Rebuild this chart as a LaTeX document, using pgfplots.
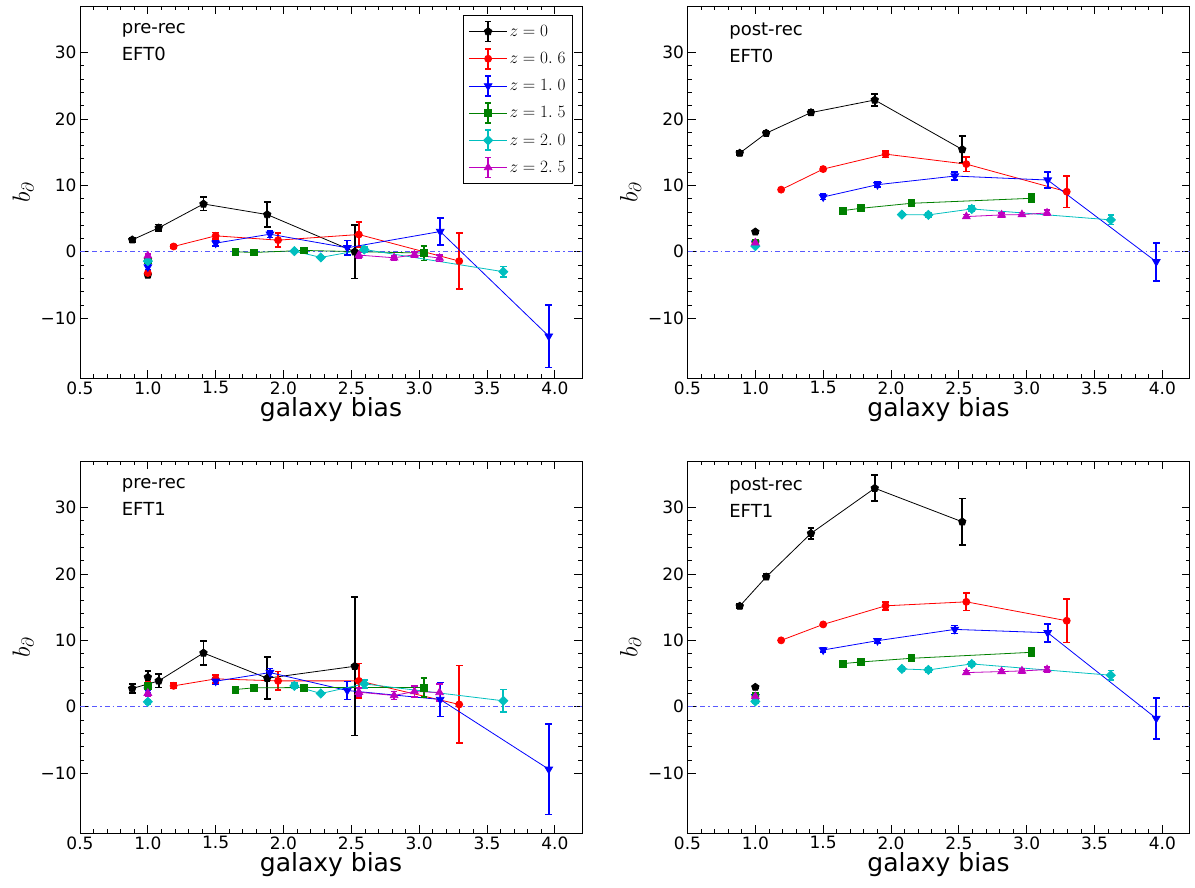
\documentclass[border=0pt]{standalone}
\usepackage[no-math]{fontspec}
\setmainfont{DejaVu Sans}
\usepackage{pgfplots}
\pgfplotsset{compat=1.18}

\definecolor{mpgreen}{rgb}{0,0.5,0}
\definecolor{mpcyan}{rgb}{0,0.75,0.75}
\definecolor{mpmag}{rgb}{0.75,0,0.75}
\definecolor{zeroblue}{rgb}{0.35,0.35,1}

\pgfplotsset{
  zA/.style={black, line width=0.8pt, mark=pentagon*, mark size=3.9pt},
  zB/.style={red, line width=0.8pt, mark=*, mark size=3.5pt},
  zC/.style={blue, line width=0.8pt, mark=triangle*, mark size=4.4pt, mark options={rotate=180}},
  zD/.style={mpgreen, line width=0.8pt, mark=square*, mark size=3.4pt},
  zE/.style={mpcyan, line width=0.8pt, mark=square*, mark size=3.2pt, mark options={rotate=45}},
  zF/.style={mpmag, line width=0.8pt, mark=triangle*, mark size=4.4pt},
  iso/.style={only marks, forget plot},
  eb/.style={/pgfplots/error bars/y dir=both, /pgfplots/error bars/y explicit,
    /pgfplots/error bars/error bar style={line width=1.7pt},
    /pgfplots/error bars/error mark options={rotate=90, mark size=3.3pt, line width=1.7pt}},
  panel/.style={
    scale only axis, width=502pt, height=372pt,
    xmin=0.5, xmax=4.2, ymin=-19, ymax=37,
    xtick={0.5,1,1.5,2,2.5,3,3.5,4},
    xticklabels={0.5,1.0,1.5,2.0,2.5,3.0,3.5,4.0},
    ytick={-10,0,10,20,30},
    yticklabels={−10,0,10,20,30},
    minor x tick num=4, minor y tick num=4,
    tick align=inside, major tick length=8pt, minor tick length=4pt,
    tick style={black, line width=0.8pt},
    axis line style={line width=0.8pt},
    ticklabel style={font=\fontsize{17}{20}\selectfont},
    xlabel={galaxy bias}, ylabel={$b_\partial$},
    label style={font=\fontsize{25}{30}\selectfont},
    xlabel style={yshift=4pt},
    legend image code/.code={
      \draw[line width=1.7pt] (19pt,-10pt) -- (19pt,10pt);
      \draw[line width=1.7pt] (16pt,10pt) -- (22pt,10pt);
      \draw[line width=1.7pt] (16pt,-10pt) -- (22pt,-10pt);
      \draw[mark repeat=2, mark phase=2] plot coordinates {(0pt,0pt) (19pt,0pt) (38pt,0pt)};
    },
  },
}

\newcommand{\zeroline}{\addplot[zeroblue, line width=1.1pt, dash pattern=on 5pt off 3pt on 1.5pt off 3pt, forget plot] coordinates {(0.5,0) (4.2,0)};}

\begin{document}
\begin{tikzpicture}
\path[use as bounding box] (0pt,0pt) rectangle (1195pt,887pt);

% ---------------- pre-rec EFT0
\begin{axis}[panel, at={(80pt,509pt)}, anchor=south west,
  legend style={at={(0.982,0.975)}, anchor=north east, font=\fontsize{17}{20}\selectfont,
    row sep=5.5pt, inner sep=5pt, draw=black, line width=0.8pt},
  legend cell align=left]
\zeroline
\addplot[zA,eb] coordinates {(0.885,1.8)+-(0,0.3) (1.08,3.6)+-(0,0.5) (1.41,7.2)+-(0,1.0) (1.88,5.6)+-(0,1.85) (2.525,0.0)+-(0,4.0)};
\addlegendentry{$z=0$}
\addplot[zB,eb] coordinates {(1.19,0.8)+-(0,0.2) (1.50,2.4)+-(0,0.5) (1.96,1.75)+-(0,1.05) (2.555,2.6)+-(0,1.9) (3.295,-1.4)+-(0,4.2)};
\addlegendentry{$z=0.\;6$}
\addplot[zC,eb] coordinates {(1.50,1.3)+-(0,0.4) (1.90,2.65)+-(0,0.5) (2.47,0.6)+-(0,1.1) (3.155,3.05)+-(0,2.05) (3.955,-12.7)+-(0,4.7)};
\addlegendentry{$z=1.\;0$}
\addplot[zD,eb] coordinates {(1.645,0.0)+-(0,0.2) (1.78,-0.1)+-(0,0.2) (2.15,0.2)+-(0,0.3) (3.035,-0.2)+-(0,1.1)};
\addlegendentry{$z=1.\;5$}
\addplot[zE,eb] coordinates {(2.08,0.1)+-(0,0.2) (2.275,-0.85)+-(0,0.2) (2.595,0.35)+-(0,0.4) (3.62,-3.0)+-(0,0.8)};
\addlegendentry{$z=2.\;0$}
\addplot[zF,eb] coordinates {(2.555,-0.5)+-(0,0.4) (2.815,-0.9)+-(0,0.3) (2.965,-0.45)+-(0,0.4) (3.15,-0.95)+-(0,0.5)};
\addlegendentry{$z=2.\;5$}
\addplot[zA,iso,eb] coordinates {(1.0,-3.5)+-(0,0.3)};
\addplot[zB,iso,eb] coordinates {(1.0,-3.2)+-(0,0.4)};
\addplot[zC,iso,eb] coordinates {(1.0,-2.3)+-(0,0.4)};
\addplot[zD,iso,eb] coordinates {(1.0,-1.3)+-(0,0.3)};
\addplot[zE,iso,eb] coordinates {(1.0,-1.4)+-(0,0.3)};
\addplot[zF,iso,eb] coordinates {(1.0,-0.6)+-(0,0.3)};
\node[anchor=north west, align=left, inner sep=0pt, font=\fontsize{18}{27}\selectfont] at (rel axis cs:0.083,0.955) {pre-rec\\EFT0};
\end{axis}

% ---------------- post-rec EFT0
\begin{axis}[panel, at={(687.5pt,509pt)}, anchor=south west]
\zeroline
\addplot[zA,eb] coordinates {(0.885,14.85)+-(0,0.3) (1.08,17.85)+-(0,0.3) (1.41,20.95)+-(0,0.4) (1.88,22.85)+-(0,0.9) (2.525,15.4)+-(0,2.0)};
\addplot[zB,eb] coordinates {(1.19,9.35)+-(0,0.2) (1.50,12.45)+-(0,0.3) (1.96,14.7)+-(0,0.5) (2.555,13.2)+-(0,1.1) (3.295,9.05)+-(0,2.4)};
\addplot[zC,eb] coordinates {(1.50,8.25)+-(0,0.4) (1.90,10.1)+-(0,0.4) (2.47,11.4)+-(0,0.6) (3.155,10.8)+-(0,1.2) (3.955,-1.5)+-(0,2.85)};
\addplot[zD,eb] coordinates {(1.645,6.2)+-(0,0.3) (1.78,6.55)+-(0,0.3) (2.15,7.3)+-(0,0.3) (3.035,8.05)+-(0,0.6)};
\addplot[zE,eb] coordinates {(2.08,5.6)+-(0,0.3) (2.275,5.55)+-(0,0.3) (2.595,6.45)+-(0,0.4) (3.62,4.8)+-(0,0.7)};
\addplot[zF,eb] coordinates {(2.555,5.3)+-(0,0.3) (2.815,5.55)+-(0,0.3) (2.965,5.6)+-(0,0.3) (3.15,5.85)+-(0,0.4)};
\addplot[zA,iso,eb] coordinates {(1.0,3.0)+-(0,0.2)};
\addplot[zB,iso,eb] coordinates {(1.0,1.4)+-(0,0.2)};
\addplot[zC,iso,eb] coordinates {(1.0,1.3)+-(0,0.2)};
\addplot[zD,iso,eb] coordinates {(1.0,1.4)+-(0,0.2)};
\addplot[zE,iso,eb] coordinates {(1.0,0.85)+-(0,0.2)};
\addplot[zF,iso,eb] coordinates {(1.0,1.35)+-(0,0.2)};
\node[anchor=north west, align=left, inner sep=0pt, font=\fontsize{18}{27}\selectfont] at (rel axis cs:0.083,0.955) {post-rec\\EFT0};
\end{axis}

% ---------------- pre-rec EFT1
\begin{axis}[panel, at={(80pt,54pt)}, anchor=south west]
\zeroline
\addplot[zA,eb] coordinates {(0.885,2.75)+-(0,0.7) (1.08,3.9)+-(0,1.0) (1.41,8.1)+-(0,1.8) (1.88,4.3)+-(0,3.15) (2.525,6.1)+-(0,10.4)};
\addplot[zB,eb] coordinates {(1.19,3.15)+-(0,0.4) (1.50,4.2)+-(0,0.6) (1.96,3.9)+-(0,1.4) (2.555,3.9)+-(0,2.6) (3.295,0.35)+-(0,5.85)};
\addplot[zC,eb] coordinates {(1.50,3.85)+-(0,0.5) (1.90,5.15)+-(0,0.6) (2.47,2.45)+-(0,1.35) (3.155,1.1)+-(0,2.55) (3.955,-9.4)+-(0,6.8)};
\addplot[zD,eb] coordinates {(1.645,2.6)+-(0,0.3) (1.78,2.85)+-(0,0.3) (2.15,2.9)+-(0,0.4) (3.035,2.9)+-(0,1.4)};
\addplot[zE,eb] coordinates {(2.08,3.15)+-(0,0.4) (2.275,2.0)+-(0,0.3) (2.595,3.45)+-(0,0.6) (3.62,0.9)+-(0,1.7)};
\addplot[zF,eb] coordinates {(2.555,2.2)+-(0,0.6) (2.815,1.7)+-(0,0.6) (2.965,2.3)+-(0,0.8) (3.15,2.15)+-(0,1.25)};
\addplot[zA,iso,eb] coordinates {(1.0,4.45)+-(0,0.9)};
\addplot[zB,iso,eb] coordinates {(1.0,3.3)+-(0,0.4)};
\addplot[zC,iso,eb] coordinates {(1.0,2.5)+-(0,0.4)};
\addplot[zD,iso,eb] coordinates {(1.0,3.2)+-(0,0.3)};
\addplot[zE,iso,eb] coordinates {(1.0,0.75)+-(0,0.3)};
\addplot[zF,iso,eb] coordinates {(1.0,2.05)+-(0,0.4)};
\node[anchor=north west, align=left, inner sep=0pt, font=\fontsize{18}{27}\selectfont] at (rel axis cs:0.083,0.955) {pre-rec\\EFT1};
\end{axis}

% ---------------- post-rec EFT1
\begin{axis}[panel, at={(687.5pt,54pt)}, anchor=south west]
\zeroline
\addplot[zA,eb] coordinates {(0.885,15.15)+-(0,0.3) (1.08,19.55)+-(0,0.4) (1.41,26.1)+-(0,0.85) (1.88,32.9)+-(0,1.95) (2.525,27.85)+-(0,3.5)};
\addplot[zB,eb] coordinates {(1.19,10.0)+-(0,0.2) (1.50,12.4)+-(0,0.3) (1.96,15.2)+-(0,0.6) (2.555,15.8)+-(0,1.3) (3.295,12.95)+-(0,3.25)};
\addplot[zC,eb] coordinates {(1.50,8.55)+-(0,0.3) (1.90,9.95)+-(0,0.3) (2.47,11.65)+-(0,0.6) (3.155,11.15)+-(0,1.35) (3.955,-1.75)+-(0,3.05)};
\addplot[zD,eb] coordinates {(1.645,6.5)+-(0,0.3) (1.78,6.75)+-(0,0.3) (2.15,7.3)+-(0,0.3) (3.035,8.2)+-(0,0.6)};
\addplot[zE,eb] coordinates {(2.08,5.7)+-(0,0.3) (2.275,5.55)+-(0,0.3) (2.595,6.45)+-(0,0.3) (3.62,4.75)+-(0,0.7)};
\addplot[zF,eb] coordinates {(2.555,5.15)+-(0,0.3) (2.815,5.3)+-(0,0.3) (2.965,5.4)+-(0,0.3) (3.15,5.6)+-(0,0.4)};
\addplot[zA,iso,eb] coordinates {(1.0,2.95)+-(0,0.2)};
\addplot[zB,iso,eb] coordinates {(1.0,1.5)+-(0,0.2)};
\addplot[zC,iso,eb] coordinates {(1.0,1.5)+-(0,0.2)};
\addplot[zD,iso,eb] coordinates {(1.0,1.6)+-(0,0.2)};
\addplot[zE,iso,eb] coordinates {(1.0,0.8)+-(0,0.2)};
\addplot[zF,iso,eb] coordinates {(1.0,1.55)+-(0,0.2)};
\node[anchor=north west, align=left, inner sep=0pt, font=\fontsize{18}{27}\selectfont] at (rel axis cs:0.083,0.955) {post-rec\\EFT1};
\end{axis}
\end{tikzpicture}
\end{document}
